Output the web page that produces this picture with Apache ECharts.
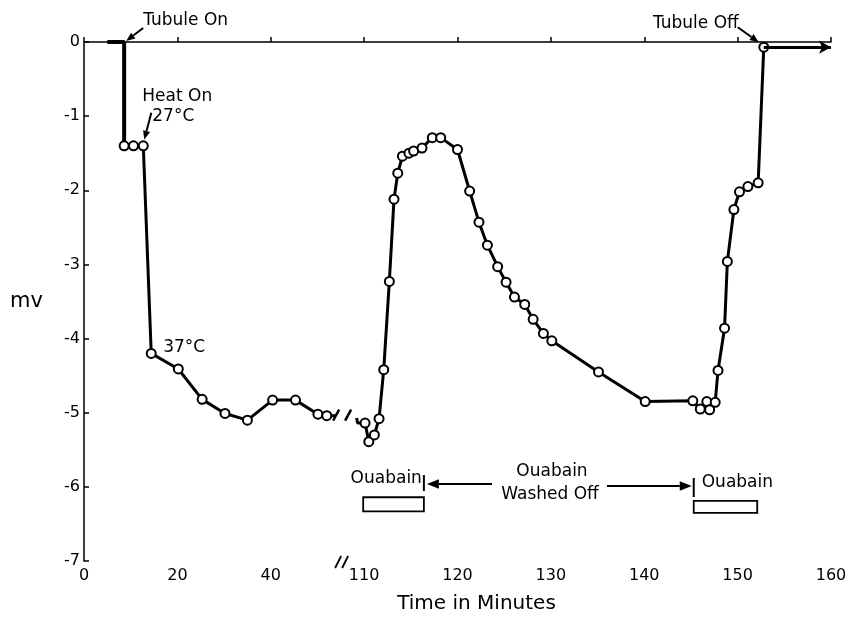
<!DOCTYPE html>
<html>
<head>
<meta charset="utf-8">
<title>Tubule potential</title>
<script src="https://cdn.jsdelivr.net/npm/echarts@6/dist/echarts.min.js"></script>
<style>
html, body { margin: 0; padding: 0; background: #fff; }
#chart { width: 850px; height: 624px; }
</style>
</head>
<body>
<div id="chart"></div>
<script>
// broken time axis: 0-55 min drawn at half scale, 110-160 min at full scale
const tickValues = [0, 10, 20, 30, 40, 50, 60, 70, 80];
const tickLabels = ['0', '20', '40', '110', '120', '130', '140', '150', '160'];

const tubuleOnTime = [5, 8.6, 8.6];
const tubuleOnMv = [0, 0, -1.4];

const earlyTime = [8.6, 10.6, 12.7, 14.4, 20.2, 25.3, 30.2, 35.0, 40.4, 45.3, 50.1, 52.0];
const earlyMv = [-1.4, -1.4, -1.4, -4.2, -4.41, -4.82, -5.01, -5.10, -4.83, -4.83, -5.02, -5.04];

const leadOutTime = [52.0, 53.8];
const leadOutMv = [-5.04, -5.04];
const leadInTime = [109.2, 109.3, 110.1];
const leadInMv = [-5.07, -5.14, -5.14];

const lateTime = [110.1, 110.5, 111.1, 111.6, 112.1, 112.7, 113.2, 113.6, 114.1, 114.8,
  115.3, 116.2, 117.3, 118.2, 120.0, 121.3, 122.3, 123.2, 124.3, 125.2,
  126.1, 127.2, 128.1, 129.2, 130.1, 135.1, 140.1, 145.2, 146.0, 146.7,
  147.0, 147.6, 147.9, 148.6, 148.9, 149.6, 150.2, 151.1, 152.2, 152.8];
const lateMv = [-5.14, -5.39, -5.30, -5.08, -4.42, -3.23, -2.12, -1.77, -1.54, -1.50,
  -1.47, -1.43, -1.29, -1.29, -1.45, -2.01, -2.43, -2.74, -3.03, -3.24,
  -3.44, -3.54, -3.74, -3.93, -4.03, -4.45, -4.85, -4.84, -4.95, -4.85,
  -4.96, -4.86, -4.43, -3.86, -2.96, -2.26, -2.02, -1.95, -1.90, -0.07];

const tubuleOffTime = [152.8, 160];
const tubuleOffMv = [-0.07, -0.07];

const ouabainStart = [109.9, 145.3];
const ouabainEnd = [116.4, 152.1];

const toAxis = (t) => (t < 80 ? t / 2 : t - 80);
const pairs = (times, values) => times.map((t, i) => [toAxis(t), values[i]]);

const font = 'DejaVu Sans';
const ink = '#000';

const chart = echarts.init(document.getElementById('chart'));

const plainLine = (data, width) => ({
  type: 'line',
  data,
  symbol: 'none',
  clip: false,
  lineStyle: { color: ink, width },
  z: 3,
});

const circleLine = (data) => ({
  type: 'line',
  data,
  symbol: 'circle',
  symbolSize: 9,
  clip: false,
  lineStyle: { color: ink, width: 3 },
  itemStyle: { color: '#fff', borderColor: ink, borderWidth: 2 },
  z: 4,
});

const lateSeries = circleLine(pairs(lateTime, lateMv));
lateSeries.markArea = {
  silent: true,
  itemStyle: { color: '#fff', borderColor: ink, borderWidth: 1.8 },
  data: [
    [{ coord: [toAxis(ouabainStart[0]), -6.14] }, { coord: [toAxis(ouabainEnd[0]), -6.33] }],
    [{ coord: [toAxis(ouabainStart[1]), -6.19] }, { coord: [toAxis(ouabainEnd[1]), -6.35] }],
  ],
};

const offSeries = plainLine(pairs(tubuleOffTime, tubuleOffMv), 3);
offSeries.markLine = {
  silent: true,
  symbol: ['none', 'arrow'],
  symbolSize: [10, 12],
  label: { show: false },
  lineStyle: { color: ink, width: 3, type: 'solid' },
  data: [[
    { coord: [toAxis(tubuleOffTime[0]), tubuleOffMv[0]] },
    { coord: [toAxis(tubuleOffTime[1]), tubuleOffMv[1]] },
  ]],
};
offSeries.lineStyle.width = 0;

chart.setOption({
  animation: false,
  backgroundColor: '#fff',
  grid: { left: 84, right: 19, top: 42, bottom: 63 },
  xAxis: {
    type: 'value',
    min: 0,
    max: 80,
    interval: 10,
    name: 'Time in Minutes',
    nameLocation: 'middle',
    nameGap: 33,
    nameTextStyle: { fontFamily: font, fontSize: 20, color: ink, padding: [0, 0, 0, 38] },
    axisLine: { lineStyle: { color: ink, width: 1.5 } },
    axisTick: { inside: true, length: 5, lineStyle: { color: ink, width: 1.5 } },
    axisLabel: {
      fontFamily: font,
      fontSize: 16,
      color: ink,
      margin: 7,
      formatter: (v) => tickLabels[tickValues.indexOf(v)] ?? '',
    },
    splitLine: { show: false },
  },
  yAxis: {
    type: 'value',
    min: -7,
    max: 0,
    interval: 1,
    name: 'mv',
    nameLocation: 'middle',
    nameRotate: 0,
    nameGap: 41,
    nameTextStyle: { fontFamily: font, fontSize: 21, color: ink },
    axisLine: { lineStyle: { color: ink, width: 1.5 } },
    axisTick: { inside: true, length: 5, lineStyle: { color: ink, width: 1.5 } },
    axisLabel: { fontFamily: font, fontSize: 16, color: ink, margin: 4 },
    splitLine: { show: false },
  },
  series: [
    plainLine(pairs(tubuleOnTime, tubuleOnMv), 4),
    plainLine(pairs(leadOutTime, leadOutMv), 3),
    plainLine(pairs(leadInTime, leadInMv), 3),
    circleLine(pairs(earlyTime, earlyMv)),
    lateSeries,
    offSeries,
  ],
});

// annotations, anchored to the data through the axes
const px = (t, mv) => chart.convertToPixel({ gridIndex: 0 }, [toAxis(t), mv]);

const text = (x, y, str, align) => ({
  type: 'text',
  x, y,
  z: 100,
  style: { text: str, fill: ink, font: `17px "${font}"`, align: align || 'left', verticalAlign: 'middle' },
});

const seg = (x1, y1, x2, y2, w) => ({
  type: 'line',
  z: 100,
  shape: { x1, y1, x2, y2 },
  style: { stroke: ink, lineWidth: w || 1.8 },
});

const arrow = (x1, y1, x2, y2, w, head) => {
  const a = Math.atan2(y2 - y1, x2 - x1);
  const hl = head || 10;
  const hw = hl * 0.4;
  const bx = x2 - hl * Math.cos(a);
  const by = y2 - hl * Math.sin(a);
  return [
    seg(x1, y1, bx, by, w),
    {
      type: 'polygon',
      z: 100,
      shape: { points: [[x2, y2], [bx + hw * Math.sin(a), by - hw * Math.cos(a)], [bx - hw * Math.sin(a), by + hw * Math.cos(a)]] },
      style: { fill: ink },
    },
  ];
};

const on = px(tubuleOnTime[1], tubuleOnMv[1]);
const heat = px(earlyTime[2], earlyMv[2]);
const warm = px(earlyTime[3], earlyMv[3]);
const off = px(lateTime[lateTime.length - 1], lateMv[lateMv.length - 1]);
const washEnd = px(ouabainEnd[0], -6)[0];
const washStart = px(ouabainStart[1], -6)[0];

// break marks on the data line and on the time axis
const brk = px(55.5, 0)[0];
const lineY = px(52, -5.04)[1];
const axisY = px(0, -7)[1];

const elements = [
  text(on[0] + 19, on[1] - 21, 'Tubule On'),
  ...arrow(on[0] + 19, on[1] - 14, on[0] + 2, on[1] - 1, 2, 9),
  text(heat[0] - 1, heat[1] - 49, 'Heat On'),
  text(heat[0] + 9, heat[1] - 29, '27°C'),
  ...arrow(heat[0] + 8, heat[1] - 33, heat[0] + 1, heat[1] - 6, 2, 9),
  text(warm[0] + 12, warm[1] - 6, '37°C'),
  text(off[0] - 25, off[1] - 24, 'Tubule Off', 'right'),
  ...arrow(off[0] - 26, off[1] - 20, off[0] - 5, off[1] - 5, 2, 9),

  text(washEnd - 2, 479, 'Ouabain', 'right'),
  seg(washEnd, 475, washEnd, 491, 2),
  ...arrow(492, 484, washEnd + 3, 484, 2, 12),
  text(552, 472, 'Ouabain', 'center'),
  text(550, 495, 'Washed Off', 'center'),
  ...arrow(607, 486, washStart - 2, 486, 2, 12),
  seg(washStart, 478, washStart, 497, 2),
  text(washStart + 8, 483, 'Ouabain'),

  { type: 'rect', z: 99, shape: { x: brk - 6, y: axisY - 3, width: 13, height: 6 }, style: { fill: '#fff' } },
  seg(brk - 8, axisY + 7, brk - 2, axisY - 5, 1.8),
  seg(brk - 1, axisY + 7, brk + 5, axisY - 5, 1.8),
  seg(brk - 10, lineY + 5, brk - 4, lineY - 6, 2.5),
  seg(brk + 2, lineY + 5, brk + 8, lineY - 6, 2.5),
];

chart.setOption({ graphic: { elements } });
</script>
</body>
</html>
